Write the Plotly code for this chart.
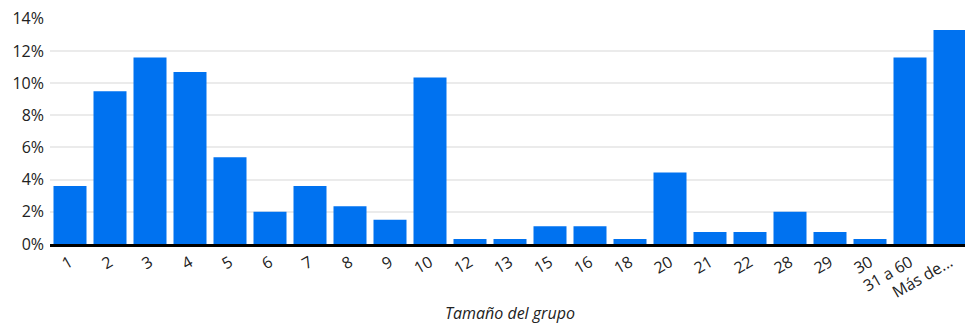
import plotly.graph_objects as go

categories = ["1", "2", "3", "4", "5", "6", "7", "8", "9", "10", "12", "13", "15", "16",
              "18", "20", "21", "22", "28", "29", "30", "31 a 60", "Más de..."]
values = [3.6, 9.5, 11.6, 10.7, 5.4, 2.0, 3.6, 2.35, 1.5, 10.35, 0.31, 0.31, 1.1, 1.1,
          0.31, 4.45, 0.74, 0.74, 2.0, 0.74, 0.31, 11.6, 13.3]
y_ticks = [0, 2, 4, 6, 8, 10, 12, 14]
y_tick_labels = [f"{v}%" for v in y_ticks]
x_title = "Tamaño del grupo"

fig = go.Figure(go.Bar(x=categories, y=values, marker_color="#0072F0",
                       marker_line_width=0))

fig.update_layout(
    width=970, height=325,
    margin=dict(l=50, r=0, t=18, b=81, autoexpand=False),
    paper_bgcolor="white", plot_bgcolor="white",
    bargap=0.175,
    font=dict(family="Open Sans", size=16, color="#222222"),
    showlegend=False,
    annotations=[dict(text=f"<i>{x_title}</i>", x=(510 - 50) / 920, xref="paper",
                      y=-0.305, yref="paper", xanchor="center", yanchor="middle",
                      showarrow=False, font=dict(size=16, color="#222222"))],
)
fig.update_xaxes(
    type="category", tickangle=-30, showline=True, linecolor="black", linewidth=3,
    ticks="", showgrid=False, automargin=False, range=[-0.5, 22.5],
)
fig.update_yaxes(
    range=[0, 14.05], tickvals=y_ticks, ticktext=y_tick_labels, showgrid=True,
    gridcolor="#ebebeb", gridwidth=2, zeroline=False, ticks="", showline=False,
    automargin=False, ticklabelstandoff=5,
)
fig.write_html("out.html", config={"displayModeBar": False},
               post_script="document.body.style.margin='0px';document.body.style.overflow='hidden';")
